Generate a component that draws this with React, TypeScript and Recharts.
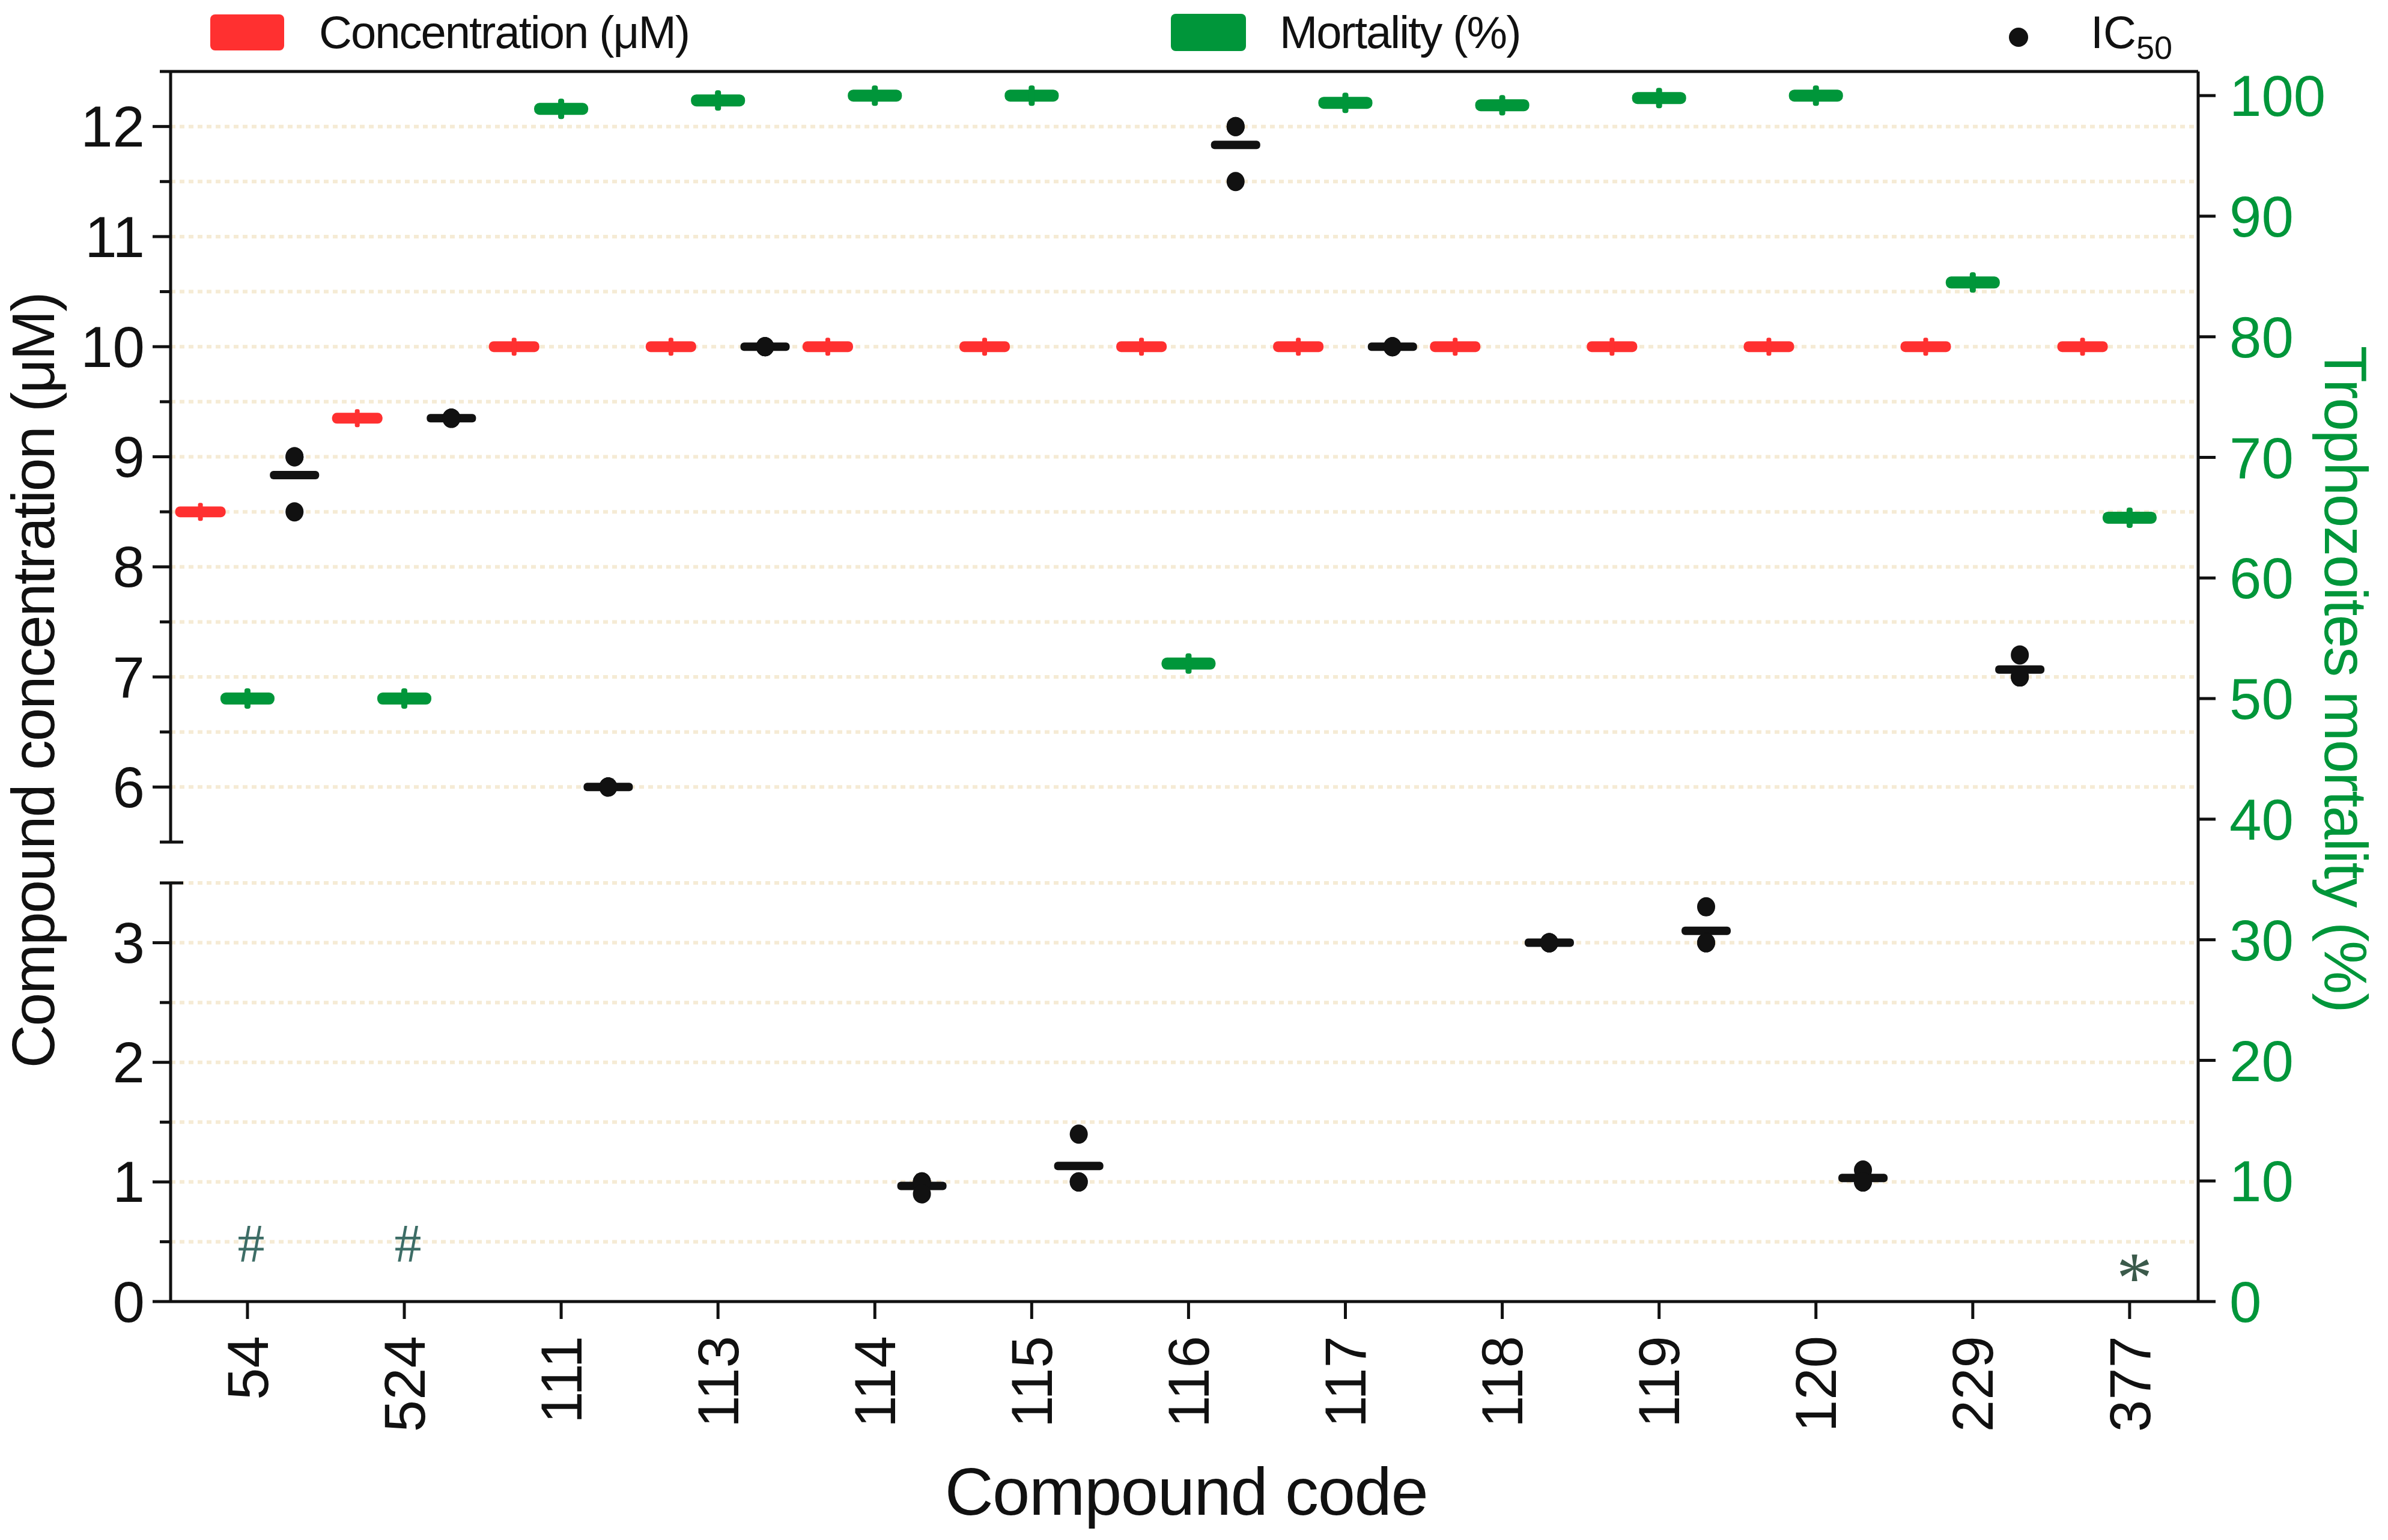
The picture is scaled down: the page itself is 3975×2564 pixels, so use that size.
import React from 'react';
import {
  ComposedChart,
  Scatter,
  XAxis,
  YAxis,
  CartesianGrid,
  ReferenceLine,
} from 'recharts';

// ---- data ----
const CODES = ['54', '524', '111', '113', '114', '115', '116', '117', '118', '119', '120', '229', '377'];
const CONCENTRATION = [8.5, 9.35, 10, 10, 10, 10, 10, 10, 10, 10, 10, 10, 10];
const MORTALITY = [50, 50, 98.9, 99.6, 100, 100, 52.9, 99.4, 99.2, 99.8, 100, 84.5, 65];
const IC50_REPLICATES = [
  [9.0, 9.0, 8.5],
  [9.35, 9.35, 9.35],
  [6.0, 6.0, 6.0],
  [10, 10, 10],
  [1.0, 1.0, 0.9],
  [1.4, 1.0, 1.0],
  [12, 12, 11.5],
  [10, 10, 10],
  [3.0, 3.0, 3.0],
  [3.3, 3.0, 3.0],
  [1.1, 1.0, 1.0],
  [7.2, 7.0, 7.0],
  [],
];
const NOTES = ['#', '#', '', '', '', '', '', '', '', '', '', '', '*'];
const NOTE_LEVEL: Record<string, number> = { '#': 0.48, '*': 0.28 };

const LEFT_MAJOR = [0, 1, 2, 3, 6, 7, 8, 9, 10, 11, 12];
const LEFT_MINOR = [0.5, 1.5, 2.5, 3.5, 5.5, 6.5, 7.5, 8.5, 9.5, 10.5, 11.5, 12.5];
const LEFT_GRID = [0.5, 1, 1.5, 2, 2.5, 3, 3.5, 6, 6.5, 7, 7.5, 8, 8.5, 9, 9.5, 10, 10.5, 11, 11.5, 12];
const RIGHT_TICKS = [0, 10, 20, 30, 40, 50, 60, 70, 80, 90, 100];

// ---- look ----
const RED = '#ff3030';
const GREEN = '#00963a';
const BLACK = '#111111';
const GRID_COLOR = '#f5ebd5';
const FONT = '"Liberation Sans", Arial, sans-serif';

// broken left axis: 0-3.5 below the break, 5.5-12.5 above it
const LOW_MAX = 3.5;
const HIGH_MIN = 5.5;
const HIGH_MAX = 12.5;
const LOW_SPAN = 697;
const GAP = 68;
const HIGH_SPAN = 1283;
const AXIS_SPAN = LOW_SPAN + GAP + HIGH_SPAN;
const brk = (v: number) =>
  v <= LOW_MAX
    ? (v / LOW_MAX) * LOW_SPAN
    : LOW_SPAN + GAP + ((v - HIGH_MIN) / (HIGH_MAX - HIGH_MIN)) * HIGH_SPAN;

const X_MIN = -0.49;
const X_MAX = 12.437;
const OFFSET = 0.3;

const mean = (a: number[]) => a.reduce((s, v) => s + v, 0) / a.length;

const concRows = CODES.map((code, i) => ({ x: i - OFFSET, y: brk(CONCENTRATION[i]), code }));
const mortRows = CODES.map((code, i) => ({ x: i, y: MORTALITY[i], code }));
const meanRows = IC50_REPLICATES.flatMap((r, i) => (r.length ? [{ x: i + OFFSET, y: brk(mean(r)) }] : []));
const dotRows = IC50_REPLICATES.flatMap((r, i) => r.map((v) => ({ x: i + OFFSET, y: brk(v) })));
const noteRows = NOTES.flatMap((n, i) => (n ? [{ x: i, y: brk(NOTE_LEVEL[n]), note: n }] : []));

const LEFT_TICKS = [...LEFT_MAJOR, ...LEFT_MINOR].sort((a, b) => a - b);

const RedMark = ({ cx, cy }: any) => (
  <g>
    <rect x={cx - 42} y={cy - 9} width={84} height={18} rx={8} fill={RED} />
    <rect x={cx - 4} y={cy - 15} width={8} height={30} rx={3} fill={RED} />
  </g>
);

const GreenMark = ({ cx, cy }: any) => (
  <g>
    <rect x={cx - 45} y={cy - 10} width={90} height={20} rx={9} fill={GREEN} />
    <rect x={cx - 5} y={cy - 17} width={10} height={34} rx={4} fill={GREEN} />
  </g>
);

const MeanMark = ({ cx, cy }: any) => (
  <rect x={cx - 41} y={cy - 7} width={82} height={14} rx={6} fill={BLACK} />
);

const Dot = ({ cx, cy }: any) => <ellipse cx={cx} cy={cy} rx={15} ry={16} fill={BLACK} />;

const Note = ({ cx, cy, payload }: any) => {
  const star = payload.note === '*';
  const size = star ? 120 : 90;
  return (
    <text
      x={cx + (star ? 8 : 6)}
      y={cy + size * (star ? 0.47 : 0.33)}
      textAnchor="middle"
      fontFamily='"Liberation Serif", "Times New Roman", serif'
      fontSize={size}
      fill={star ? '#3b5a4b' : '#3d6d66'}
    >
      {payload.note}
    </text>
  );
};

const LeftTick = ({ x, y, payload }: any) => {
  const v = LEFT_TICKS.find((t) => Math.abs(brk(t) - payload.value) < 0.01);
  if (v === undefined) return null;
  const major = LEFT_MAJOR.includes(v);
  const breakEnd = v === LOW_MAX || v === HIGH_MIN;
  return (
    <g>
      <line
        x1={x - (major ? 30 : 18)}
        x2={breakEnd ? x + 21 : x}
        y1={y}
        y2={y}
        stroke={BLACK}
        strokeWidth={5}
      />
      {major && (
        <text x={x - 43} y={y} dy="0.35em" textAnchor="end" fontFamily={FONT} fontSize={96} fill={BLACK}>
          {v}
        </text>
      )}
    </g>
  );
};

const BottomTick = ({ x, y, payload }: any) => (
  <text
    x={x}
    y={y}
    dy="0.35em"
    textAnchor="end"
    transform={`rotate(-90, ${x}, ${y})`}
    fontFamily={FONT}
    fontSize={96}
    fill={BLACK}
  >
    {CODES[payload.value]}
  </text>
);

const LeftTitle = ({ viewBox }: any) => {
  const x = viewBox.x + 6;
  const y = viewBox.y + viewBox.height / 2 - 10;
  return (
    <text
      x={x}
      y={y}
      transform={`rotate(-90, ${x}, ${y})`}
      textAnchor="middle"
      fontFamily={FONT}
      fontSize={100}
      letterSpacing={-2.3}
      fill={BLACK}
    >
      Compound concentration (μM)
    </text>
  );
};

const RightTitle = ({ viewBox }: any) => {
  const x = viewBox.x + 211;
  const y = viewBox.y + viewBox.height / 2 - 13;
  return (
    <text
      x={x}
      y={y}
      transform={`rotate(90, ${x}, ${y})`}
      textAnchor="middle"
      fontFamily={FONT}
      fontSize={100}
      letterSpacing={-2.1}
      fill={GREEN}
    >
      Trophozoites mortality (%)
    </text>
  );
};

const XTitle = ({ viewBox }: any) => (
  <text
    x={viewBox.x + viewBox.width / 2 + 3}
    y={viewBox.y + 355}
    textAnchor="middle"
    fontFamily={FONT}
    fontSize={112}
    letterSpacing={-1.4}
    fill={BLACK}
  >
    Compound code
  </text>
);

// left axis domain is one unit per pixel, so grid rows sit at brk(v) above the plot bottom
const gridRows = ({ yAxis, offset }: any) =>
  LEFT_GRID.map((v) =>
    yAxis && typeof yAxis.scale === 'function'
      ? yAxis.scale(brk(v))
      : offset.top + offset.height - brk(v)
  );

export default function App() {
  return (
    <div style={{ position: 'absolute', left: 0, top: 0, width: 3975, height: 2564, background: '#fff' }}>
      <ComposedChart
        width={3975}
        height={2564}
        margin={{ top: 119, right: 116, bottom: 197, left: 84 }}
      >
        <CartesianGrid
          yAxisId="left"
          vertical={false}
          horizontalCoordinatesGenerator={gridRows}
          stroke={GRID_COLOR}
          strokeWidth={6}
          strokeDasharray="8 7"
        />
        <XAxis
          dataKey="x"
          type="number"
          domain={[X_MIN, X_MAX]}
          allowDataOverflow
          ticks={CODES.map((_, i) => i)}
          interval={0}
          height={200}
          tickSize={29}
          tickMargin={28}
          tickLine={{ stroke: BLACK, strokeWidth: 5 }}
          axisLine={{ stroke: BLACK, strokeWidth: 5 }}
          tick={<BottomTick />}
          label={{ content: XTitle }}
        />
        <YAxis
          yAxisId="left"
          dataKey="y"
          type="number"
          domain={[0, AXIS_SPAN]}
          allowDataOverflow
          ticks={LEFT_TICKS.map(brk)}
          interval={0}
          width={200}
          axisLine={false}
          tickLine={false}
          tickSize={0}
          tickMargin={0}
          tick={<LeftTick />}
          label={{ content: LeftTitle }}
        />
        <YAxis
          yAxisId="right"
          orientation="right"
          dataKey="y"
          type="number"
          domain={[0, 102]}
          allowDataOverflow
          ticks={RIGHT_TICKS}
          interval={0}
          width={200}
          tickSize={29}
          tickMargin={23}
          tickLine={{ stroke: BLACK, strokeWidth: 5 }}
          axisLine={{ stroke: BLACK, strokeWidth: 5 }}
          tick={{ fill: GREEN, fontSize: 96, fontFamily: FONT }}
          label={{ content: RightTitle }}
        />
        <ReferenceLine yAxisId="left" y={AXIS_SPAN} stroke={BLACK} strokeWidth={5} ifOverflow="visible" />
        <ReferenceLine
          yAxisId="left"
          segment={[{ x: X_MIN, y: 0 }, { x: X_MIN, y: brk(LOW_MAX) }]}
          stroke={BLACK}
          strokeWidth={5}
          ifOverflow="visible"
        />
        <ReferenceLine
          yAxisId="left"
          segment={[{ x: X_MIN, y: brk(HIGH_MIN) }, { x: X_MIN, y: AXIS_SPAN }]}
          stroke={BLACK}
          strokeWidth={5}
          ifOverflow="visible"
        />
        <Scatter yAxisId="left" data={concRows} shape={RedMark} isAnimationActive={false} />
        <Scatter yAxisId="right" data={mortRows} shape={GreenMark} isAnimationActive={false} />
        <Scatter yAxisId="left" data={meanRows} shape={MeanMark} isAnimationActive={false} />
        <Scatter yAxisId="left" data={dotRows} shape={Dot} isAnimationActive={false} />
        <Scatter yAxisId="left" data={noteRows} shape={Note} isAnimationActive={false} />
      </ComposedChart>

      {/* legend across the top */}
      <svg
        width={3975}
        height={118}
        style={{ position: 'absolute', left: 0, top: 0, pointerEvents: 'none' }}
        fontFamily={FONT}
      >
        <rect x={350} y={24} width={123} height={60} rx={8} fill={RED} />
        <text x={531} y={80} fontSize={76} letterSpacing={-2} fill={BLACK}>
          Concentration (μM)
        </text>
        <rect x={1949} y={23} width={125} height={62} rx={8} fill={GREEN} />
        <text x={2130} y={80} fontSize={76} letterSpacing={-2} fill={BLACK}>
          Mortality (%)
        </text>
        <circle cx={3360} cy={62} r={16} fill={BLACK} />
        <text x={3480} y={80} fontSize={76} fill={BLACK}>
          IC
          <tspan fontSize={54} dy={18}>
            50
          </tspan>
        </text>
      </svg>
    </div>
  );
}
